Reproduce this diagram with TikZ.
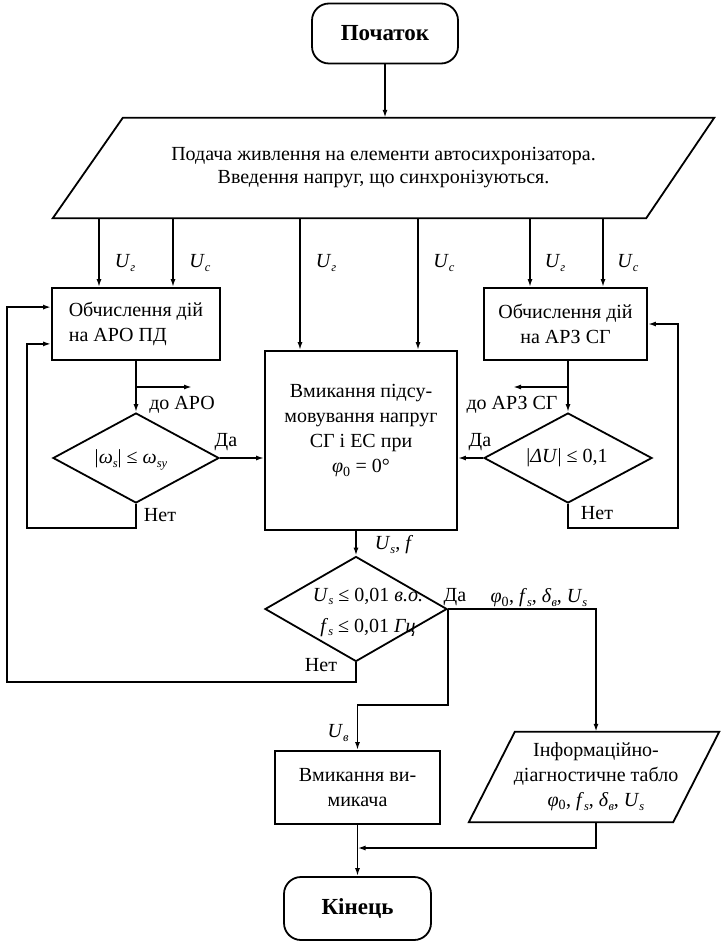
\documentclass[tikz,border=0pt]{standalone}
\usepackage{fontspec}
\setmainfont{Liberation Serif}
\usetikzlibrary{shapes.geometric,arrows.meta,calc}
\newcommand\sbs[1]{\raisebox{-0.35ex}{\fontsize{12.5}{12.5}\selectfont\itshape #1}}
\begin{document}
\begin{tikzpicture}[x=1pt,y=-1pt,
  every node/.style={font=\fontsize{20}{25}\selectfont},
  box/.style={draw, line width=1.8pt, rectangle, inner sep=2pt, align=center},
  term/.style={draw, line width=1.8pt, rounded corners=17pt, font=\fontsize{23}{25}\selectfont\bfseries},
  dia/.style={draw, line width=1.8pt, diamond, inner sep=0pt},
  area/.style={rectangle, draw=none, inner sep=0pt},
  outl/.style={line width=1.8pt, line join=miter},
  lbl/.style={inner sep=0pt},
  arr/.style={line width=1.8pt, -{Latex[length=8pt,width=5pt]}},
]
\useasboundingbox (0,0) rectangle (720,941);

% nodes
\node[term, minimum width=146pt, minimum height=60pt] (start) at (385,33.5) {Початок};

\node[area, minimum width=661pt, minimum height=100pt, align=center, font=\fontsize{20}{23}\selectfont] (feed) at (383.5,168) {Подача живлення на елементи автосихронізатора.\\Введення напруг, що синхронізуються.};
\draw[outl] ($(feed.north west)+(70,0)$) -- (feed.north east) -- ($(feed.south east)+(-68,0)$) -- (feed.south west) -- cycle;

\node[box, minimum width=168pt, minimum height=72pt, align=left] (lbox) at (136,324) {Обчислення дій\\на АРО ПД};
\node[box, minimum width=192pt, minimum height=179pt] (cbox) at (361,440.5) {};
\node[lbl, align=center] (cboxt) at (361,431) {Вмикання підсу-\\мовування напруг\\СГ і ЕС при\\\textit{φ}\textsubscript{0} = 0°};
\node[box, minimum width=163pt, minimum height=72pt] (rbox) at (565.5,324) {Обчислення дій\\на АРЗ СГ};

\node[dia, minimum width=166pt, minimum height=90pt] (ldia) at (136,458) {};
\node[lbl] (ldiat) at (131,460) {|\textit{ω}\sbs{s}| ≤ \textit{ω}\sbs{sy}};
\node[dia, minimum width=168pt, minimum height=90pt] (rdia) at (568,458) {};
\node[lbl] (rdiat) at (567,458) {|\textit{ΔU}| ≤ 0,1};
\node[dia, minimum width=182pt, minimum height=105pt] (mdia) at (356,609) {};
\node[lbl, align=center] (mdiat) at (368,612) {\textit{U}\sbs{s} ≤ 0,01 \textit{в.о.}\\[6pt]\textit{f}\sbs{s} ≤ 0,01 \textit{Гц}};

\node[box, minimum width=165pt, minimum height=73pt] (vimk) at (357.5,787.5) {Вмикання ви-\\микача};

\node[area, minimum width=250pt, minimum height=90pt] (info) at (594,777) {};
\draw[outl] ($(info.north west)+(46,0)$) -- (info.north east) -- ($(info.south east)+(-46,0)$) -- (info.south west) -- cycle;
\node[lbl, align=center] (infot) at (596,777) {Інформаційно-\\діагностичне табло\\\textit{φ}\textsubscript{0}, \textit{f}\sbs{s}, \textit{δ}\sbs{в}, \textit{U}\sbs{s}};

\node[term, minimum width=147pt, minimum height=63pt] (end) at (357.5,908.5) {Кінець};

% helper coordinates
\coordinate (c1) at (99,0);
\coordinate (c2) at (173,0);
\coordinate (c3) at (300,0);
\coordinate (c4) at (418,0);
\coordinate (c5) at (530,0);
\coordinate (c6) at (603,0);
\coordinate (aroEnd) at (192,387);
\coordinate (arzEnd) at (513,387);
\coordinate (lloop) at (27,528);
\coordinate (rloop) at (678,528);
\coordinate (outer) at (7,682);
\coordinate (jct) at (447,705);
\coordinate (merge) at (357.5,848);
\coordinate (infoIn) at (596,0);

% labels
\node[lbl] at (125,263) {\textit{U}\sbs{г}};
\node[lbl] at (200,263) {\textit{U}\sbs{с}};
\node[lbl] at (326,263) {\textit{U}\sbs{г}};
\node[lbl] at (444,263) {\textit{U}\sbs{с}};
\node[lbl] at (555,263) {\textit{U}\sbs{г}};
\node[lbl] at (628,263) {\textit{U}\sbs{с}};
\node[lbl] at (182,405) {до АРО};
\node[lbl] at (512,405) {до АРЗ СГ};
\node[lbl] at (226,442) {Да};
\node[lbl] at (160,515) {Нет};
\node[lbl] at (480,442) {Да};
\node[lbl] at (597,513) {Нет};
\node[lbl] at (394,545) {\textit{U}\sbs{s}, \textit{f}};
\node[lbl] at (455,597) {Да};
\node[lbl] at (539,598) {\textit{φ}\textsubscript{0}, \textit{f}\sbs{s}, \textit{δ}\sbs{в}, \textit{U}\sbs{s}};
\node[lbl] at (321,665) {Нет};
\node[lbl] at (338,733) {\textit{U}\sbs{в}};

% connectors
\draw[arr] (start.south) -- (start.south |- feed.north);
\draw[arr] (feed.south -| c1) -- (lbox.north -| c1);
\draw[arr] (feed.south -| c2) -- (lbox.north -| c2);
\draw[arr] (feed.south -| c3) -- (cbox.north -| c3);
\draw[arr] (feed.south -| c4) -- (cbox.north -| c4);
\draw[arr] (feed.south -| c5) -- (rbox.north -| c5);
\draw[arr] (feed.south -| c6) -- (rbox.north -| c6);

\draw[arr] (lbox.south) -- (ldia.north);
\draw[arr] (lbox.south |- aroEnd) -- (aroEnd);
\draw[arr] (ldia.east) -- (cbox.west |- ldia.east);
\draw[arr] (ldia.south) |- (lloop) |- ($(lbox.south west)+(0,-17)$);

\draw[arr] (rbox.south -| rdia.north) -- (rdia.north);
\draw[arr] (rdia.north |- arzEnd) -- (arzEnd);
\draw[arr] (rdia.west) -- (cbox.east |- rdia.west);
\draw[arr] (rdia.south) |- (rloop) |- (rbox.east);

\draw[arr] (cbox.south -| mdia.north) -- (mdia.north);
\draw[arr] (mdia.south) |- (outer) |- ($(lbox.north west)+(0,20)$);
\draw[arr] (mdia.east) -| (info.north -| infoIn);
\draw[arr] (mdia.east) -- (mdia.east |- jct) -| (vimk.north);
\draw[arr] (info.south -| infoIn) |- (merge);
\draw[arr] (vimk.south) -- (end.north);
\end{tikzpicture}
\end{document}
